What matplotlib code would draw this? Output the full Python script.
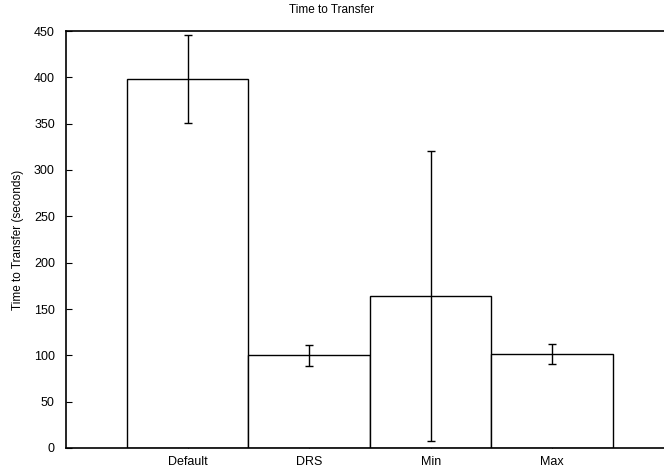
import matplotlib
matplotlib.use("Agg")
import matplotlib.pyplot as plt

categories = ["Default", "DRS", "Min", "Max"]
values = [398, 100, 164, 101]
err_low = [351, 89, 8, 91]
err_high = [446, 111, 321, 112]

plt.rcParams['font.family'] = ['Liberation Sans', 'DejaVu Sans']

fig = plt.figure(figsize=(6.64, 4.70), dpi=100)
L, R, B, T = 66, 664, 448, 31
ax = fig.add_axes([L/664, (470-B)/470, (R-L)/664, (B-T)/470])

x = list(range(len(categories)))
ax.bar(x, values, width=1.0, color='white', edgecolor='black', linewidth=1.0, zorder=2)
yerr = [[v - lo for v, lo in zip(values, err_low)], [hi - v for v, hi in zip(values, err_high)]]
ax.errorbar(x, values, yerr=yerr, fmt='none', ecolor='black', elinewidth=1.0,
            capsize=3, capthick=1.0, zorder=3)

ax.set_xlim(-1, 3.92)
ax.set_ylim(0, 450)
ax.set_yticks(range(0, 451, 50))
ax.set_xticks(x)
ax.set_xticklabels(categories)
ax.tick_params(axis='both', direction='in', labelsize=9, length=4, width=0.8)
ax.tick_params(axis='x', pad=6)
ax.tick_params(axis='y', pad=8)
ax.spines['right'].set_visible(False)
for s in ['left', 'top', 'bottom']:
    ax.spines[s].set_linewidth(1.2)
ax.set_ylabel("Time to Transfer (seconds)", fontsize=8.5)
ax.yaxis.set_label_coords((24 - L) / (R - L), 0.5)
fig.text(0.5, 1 - 10/470, "Time to Transfer", ha='center', va='center', fontsize=8.5)

fig.savefig("out.png", dpi=100)
